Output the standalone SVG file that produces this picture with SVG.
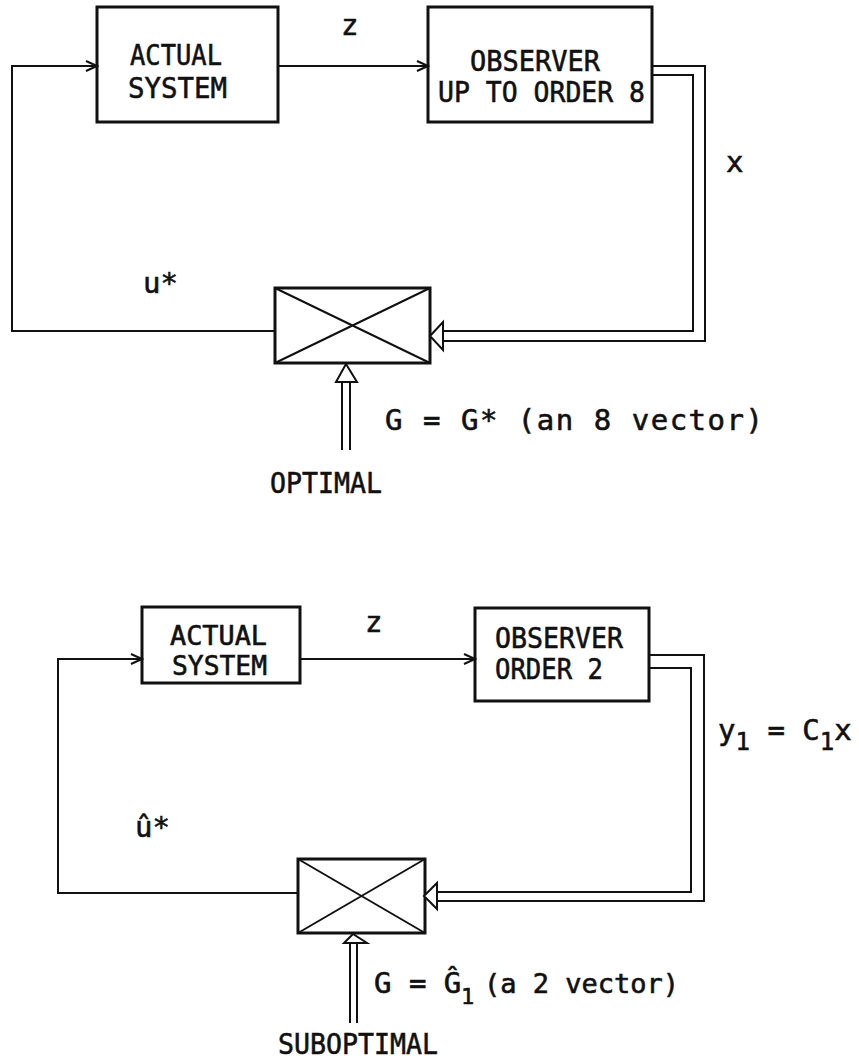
<svg xmlns="http://www.w3.org/2000/svg" width="859" height="1060" viewBox="0 0 859 1060">
<style>
.box{fill:none;stroke:#111;stroke-width:3}
.ln{fill:none;stroke:#111;stroke-width:2}
.hd{fill:#fff;stroke:#111;stroke-width:2;stroke-linejoin:miter}
text{font-family:"DejaVu Sans Mono","Liberation Mono",monospace;font-size:29px;fill:#111;stroke:#111;stroke-width:0.6}
.sm{font-size:26px}
.sub{font-size:24px}
</style>
<defs>
<marker id="chev" markerWidth="14" markerHeight="12" refX="12" refY="6" orient="auto" markerUnits="userSpaceOnUse">
<path d="M1,1 L12,6 L1,11" fill="none" stroke="#111" stroke-width="2"/>
</marker>
</defs>
<rect width="859" height="1060" fill="#fff"/>

<!-- top diagram -->
<g id="actual1">
<rect class="box" x="97" y="7" width="181" height="115"/>
<text x="130" y="65" textLength="92" lengthAdjust="spacingAndGlyphs">ACTUAL</text>
<text x="128" y="98" textLength="99" lengthAdjust="spacingAndGlyphs">SYSTEM</text>
</g>
<g id="observer1">
<rect class="box" x="428" y="7" width="224" height="115"/>
<text x="470" y="71" textLength="130" lengthAdjust="spacingAndGlyphs">OBSERVER</text>
<text x="438" y="102" textLength="207" lengthAdjust="spacingAndGlyphs">UP TO ORDER 8</text>
</g>
<g id="gain1">
<rect class="box" x="275" y="288" width="155" height="75"/>
<path class="ln" d="M275,288 L430,363 M430,288 L275,363"/>
</g>

<!-- bottom diagram -->
<g id="actual2">
<rect class="box" x="142" y="607" width="158" height="76"/>
<text class="sm" x="170" y="645" textLength="97" lengthAdjust="spacingAndGlyphs">ACTUAL</text>
<text class="sm" x="172" y="675" textLength="95" lengthAdjust="spacingAndGlyphs">SYSTEM</text>
</g>
<g id="observer2">
<rect class="box" x="475" y="608" width="174" height="93"/>
<text x="495" y="648" textLength="128" lengthAdjust="spacingAndGlyphs">OBSERVER</text>
<text x="495" y="679" textLength="108" lengthAdjust="spacingAndGlyphs">ORDER 2</text>
</g>
<g id="gain2">
<rect class="box" x="298" y="859" width="127" height="74"/>
<path class="ln" d="M298,859 L425,933 M425,859 L298,933"/>
</g>

<g id="connectors">
<!-- top -->
<path class="ln" d="M275,331 L12,331 L12,66 L97,66" marker-end="url(#chev)"/>
<path class="ln" d="M278,66 L428,66" marker-end="url(#chev)"/>
<path class="ln" d="M652,66 L705,66 L705,341 L443,341"/>
<path class="ln" d="M652,75 L693,75 L693,331 L443,331"/>
<path class="hd" d="M430,336 L443,322 L443,350 Z"/>
<path class="ln" d="M342,450 L342,382 M350,450 L350,382"/>
<path class="hd" d="M346,364 L336,382 L357,382 Z"/>
<!-- bottom -->
<path class="ln" d="M298,893 L58,893 L58,659 L142,659" marker-end="url(#chev)"/>
<path class="ln" d="M300,659 L475,659" marker-end="url(#chev)"/>
<path class="ln" d="M649,655 L704,655 L704,901 L437,901"/>
<path class="ln" d="M649,668 L691,668 L691,892 L437,892"/>
<path class="hd" d="M424,896 L437,883 L437,909 Z"/>
<path class="ln" d="M350,1023 L350,943 M357,1023 L357,943"/>
<path class="hd" d="M353,934 L344,943 L367,943 Z"/>
</g>

<g id="labels">
<text x="341" y="35">z</text>
<text x="726" y="172">x</text>
<text x="143" y="293">u*</text>
<text x="385" y="430" textLength="378">G = G* (an 8 vector)</text>
<text x="270" y="493" textLength="112" lengthAdjust="spacingAndGlyphs">OPTIMAL</text>
<text x="365" y="632">z</text>
<text x="718" y="740">y<tspan class="sub" dy="10">1</tspan><tspan dy="-10"> = C</tspan><tspan class="sub" dy="10">1</tspan><tspan dy="-10">x</tspan></text>
<text x="135" y="837">û*</text>
<text x="374" y="993" font-size="26">G = Ĝ<tspan font-size="22" x="461" y="1004">1</tspan><tspan font-size="27" x="484" y="993">(a 2 vector)</tspan></text>
<text x="278" y="1054" textLength="160" lengthAdjust="spacingAndGlyphs">SUBOPTIMAL</text>
</g>
</svg>
